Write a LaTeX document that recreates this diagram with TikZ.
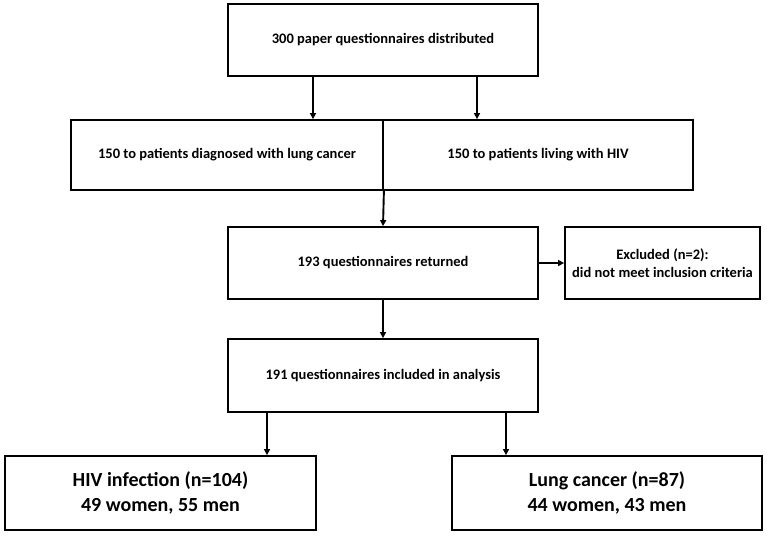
\documentclass[tikz,border=0pt]{standalone}
\usepackage{fontspec}
\setmainfont{Carlito}
\usetikzlibrary{arrows.meta}
\begin{document}
\begin{tikzpicture}[x=1pt,y=-1pt,
  box/.style={draw=black, line width=1.8pt, fill=white, inner sep=0pt, align=center, font=\fontsize{14.5}{18}\selectfont\bfseries},
  bigbox/.style={box, font=\fontsize{20}{25}\selectfont\bfseries},
  arr/.style={line width=1.9pt, -{Triangle[length=6pt,width=6pt]}}]
\useasboundingbox (0,0) rectangle (767,535);
\node[box, minimum width=310pt, minimum height=72pt] (top) at (383,40) {300 paper questionnaires distributed};
\node[box, minimum width=312pt, minimum height=70pt] (lung) at (227,155) {150 to patients diagnosed with lung cancer};
\node[box, minimum width=310pt, minimum height=70pt] (hiv) at (538,155) {150 to patients living with HIV};
\node[box, minimum width=310pt, minimum height=72pt] (ret) at (383,263) {193 questionnaires returned};
\node[box, minimum width=195pt, minimum height=72pt] (exc) at (662.5,263) {Excluded (n=2):\\did not meet inclusion criteria};
\node[box, minimum width=310pt, minimum height=73pt] (inc) at (383,375.5) {191 questionnaires included in analysis};
\node[bigbox, minimum width=311pt, minimum height=74pt] (hivinf) at (160.5,493) {HIV infection (n=104)\\49 women, 55 men};
\node[bigbox, minimum width=310pt, minimum height=74pt] (lc) at (607,493) {Lung cancer (n=87)\\44 women, 43 men};
\coordinate (a1) at (313,0);
\coordinate (a2) at (477,0);
\coordinate (b1) at (267,0);
\coordinate (b2) at (506,0);
\draw[arr] (top.south -| a1) -- (lung.north -| a1);
\draw[arr] (top.south -| a2) -- (hiv.north -| a2);
\draw[arr] (lung.south east) -- (ret.north);
\draw[arr] (ret.east) -- (exc.west);
\draw[arr] (ret.south) -- (inc.north);
\draw[arr] (inc.south -| b1) -- (hivinf.north -| b1);
\draw[arr] (inc.south -| b2) -- (lc.north -| b2);
\end{tikzpicture}
\end{document}
